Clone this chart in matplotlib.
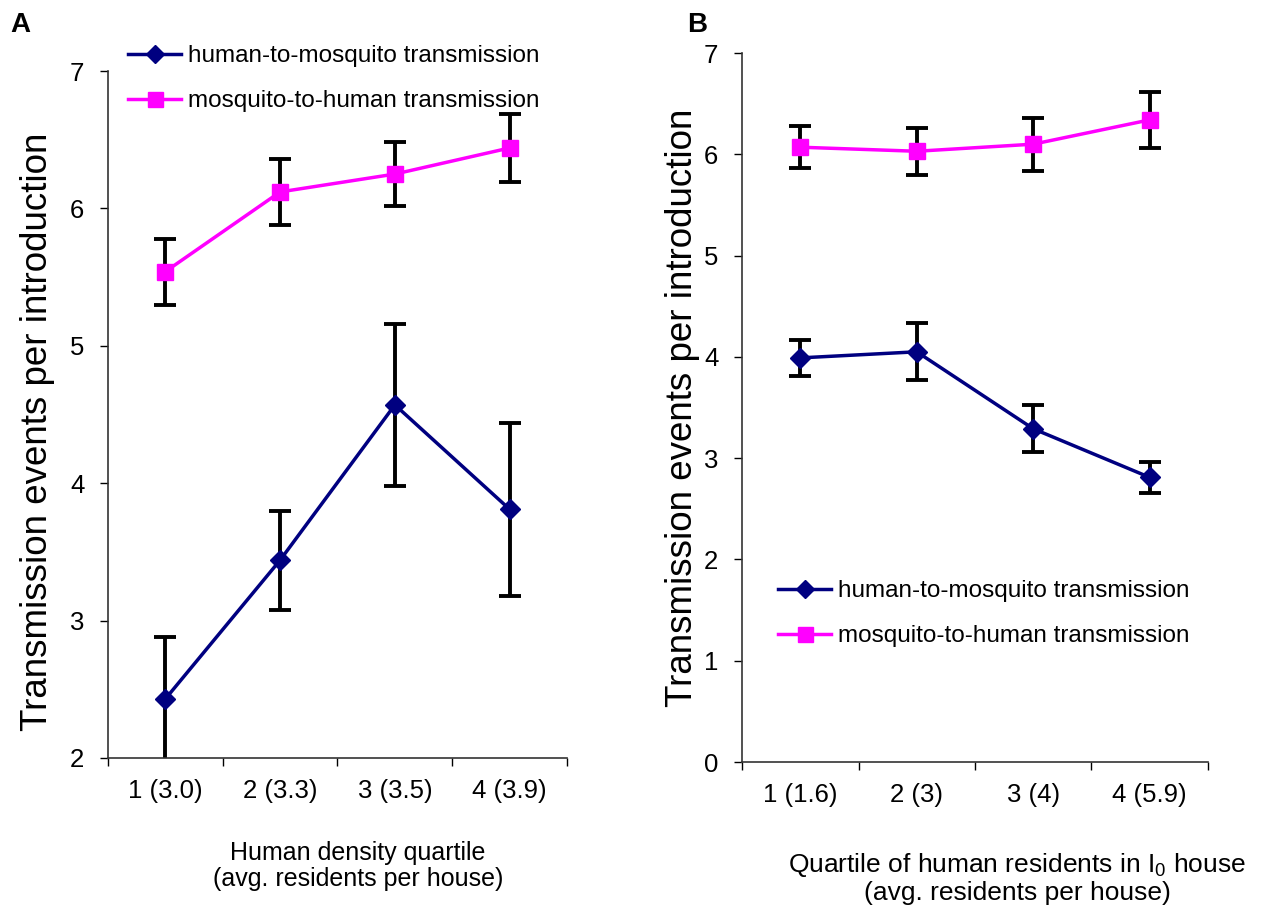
import numpy as np
import matplotlib
matplotlib.use('Agg')
import matplotlib.pyplot as plt

plt.rcParams['font.family'] = ['Liberation Sans', 'DejaVu Sans']
plt.rcParams['mathtext.fontset'] = 'custom'
plt.rcParams['mathtext.rm'] = 'Liberation Sans'
plt.rcParams['mathtext.it'] = 'Liberation Sans'
plt.rcParams['mathtext.default'] = 'rm'

# Panel A data: human density quartile
a_labels = ['1 (3.0)', '2 (3.3)', '3 (3.5)', '4 (3.9)']
a_h2m = [2.43, 3.44, 4.57, 3.81]
a_h2m_err = [0.45, 0.36, 0.59, 0.63]
a_m2h = [5.54, 6.12, 6.25, 6.44]
a_m2h_err = [0.24, 0.24, 0.23, 0.25]

# Panel B data: quartile of residents in I0 house
b_labels = ['1 (1.6)', '2 (3)', '3 (4)', '4 (5.9)']
b_h2m = [3.99, 4.05, 3.29, 2.81]
b_h2m_err = [0.18, 0.28, 0.23, 0.15]
b_m2h = [6.07, 6.03, 6.10, 6.34]
b_m2h_err = [0.21, 0.23, 0.26, 0.28]

navy = '#000080'
magenta = '#FF00FF'

fig = plt.figure(figsize=(12.84, 9.14), dpi=100)
axA = fig.add_axes([0.0841, 0.1707, 0.3575, 0.7516])
axB = fig.add_axes([0.5779, 0.1663, 0.3629, 0.7757])


def draw_panel(ax, labels, h2m, h2m_err, m2h, m2h_err, ylim, xlabel, xlabel_size):
    x = np.arange(1, len(labels) + 1)
    ax.errorbar(x, h2m, yerr=h2m_err, fmt='none', ecolor='black',
                elinewidth=2.8, capsize=8, capthick=2.8, zorder=2)
    ax.errorbar(x, m2h, yerr=m2h_err, fmt='none', ecolor='black',
                elinewidth=2.8, capsize=8, capthick=2.8, zorder=2)
    ax.plot(x, h2m, color=navy, lw=2.5, marker='D', ms=10,
            label='human-to-mosquito transmission', zorder=3)
    ax.plot(x, m2h, color=magenta, lw=2.5, marker='s', ms=12,
            label='mosquito-to-human transmission', zorder=3)
    ax.set_xlim(0.5, len(labels) + 0.5)
    ax.set_ylim(*ylim)
    ax.set_yticks(np.arange(ylim[0], ylim[1] + 1))
    ax.set_xticks(x)
    ax.set_xticklabels(labels)
    ax.set_xticks(np.arange(0.5, len(labels) + 1), minor=True)
    ax.tick_params(axis='x', which='major', length=0, pad=15, labelsize=18.5)
    ax.tick_params(axis='x', which='minor', length=6, width=1, direction='out')
    ax.tick_params(axis='y', length=6, width=1, direction='out', labelsize=18.5, pad=11)
    for s in ['top', 'right']:
        ax.spines[s].set_visible(False)
    for s in ['left', 'bottom']:
        ax.spines[s].set_linewidth(1.2)
        ax.spines[s].set_color('#333333')
    ax.set_xlabel(xlabel, fontsize=xlabel_size, linespacing=1.1)
    ax.set_ylabel('Transmission events per introduction', fontsize=26.5)


draw_panel(axA, a_labels, a_h2m, a_h2m_err, a_m2h, a_m2h_err, (2, 7),
           'Human density quartile\n(avg. residents per house)', 18)
draw_panel(axB, b_labels, b_h2m, b_h2m_err, b_m2h, b_m2h_err, (0, 7),
           'Quartile of human residents in I$_0$ house\n(avg. residents per house)', 19)

axA.xaxis.set_label_coords(0.545, -0.121)
axB.xaxis.set_label_coords(0.59, -0.126)
axA.yaxis.set_label_coords(-0.115, 0.475)
axB.yaxis.set_label_coords(-0.09, 0.5)

leg_kw = dict(loc='upper left', frameon=False, fontsize=17.5, handlelength=2.2,
              handletextpad=0.25, labelspacing=0.95, borderaxespad=0, borderpad=0,
              markerscale=0.9, bbox_transform=fig.transFigure)
legA = axA.legend(bbox_to_anchor=(128 / 1284, 1 - 45 / 914), **leg_kw)
legB = axB.legend(bbox_to_anchor=(778 / 1284, 1 - 580 / 914), **leg_kw)

fig.text(0.008, 0.973, 'A', fontsize=20, fontweight='bold', va='center')
fig.text(0.535, 0.973, 'B', fontsize=20, fontweight='bold', va='center')

fig.savefig('out.png', dpi=100)
